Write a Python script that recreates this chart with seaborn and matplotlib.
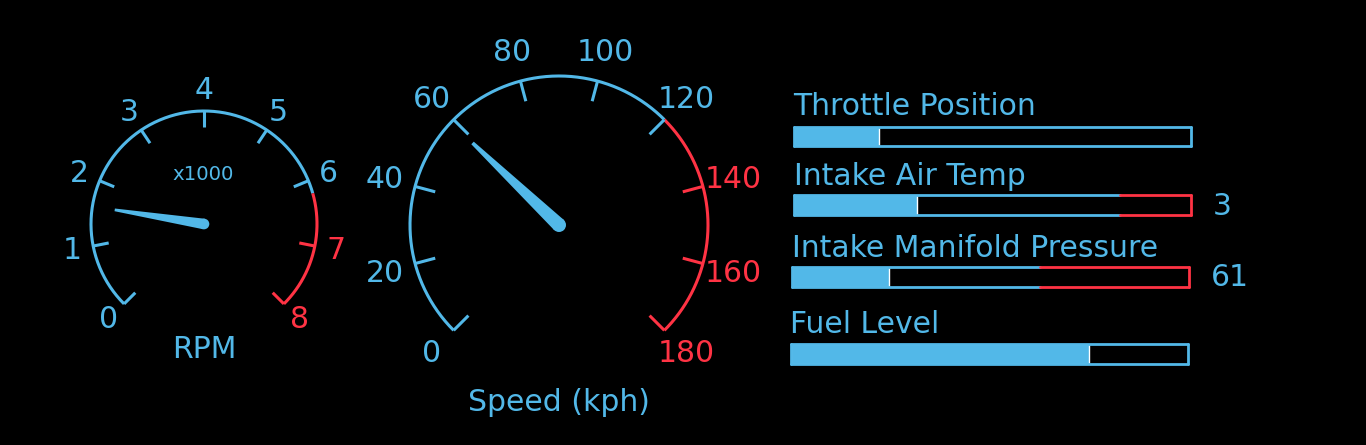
import numpy as np
import matplotlib
matplotlib.use("Agg")
import matplotlib.pyplot as plt
import seaborn as sns
from matplotlib.patches import Circle

# --------------------------------------------------
# Data
# --------------------------------------------------

rpm_ticks = [0, 1, 2, 3, 4, 5, 6, 7, 8]
rpm_value = 1.6
rpm_redline = 6.2

speed_ticks = [0, 20, 40, 60, 80, 100, 120, 140, 160, 180]
speed_value = 59
speed_redline = 120

bar_labels = [
    "Throttle Position",
    "Intake Air Temp",
    "Intake Manifold Pressure",
    "Fuel Level"
]
bar_values = [21.5, 31, 24.5, 75]
bar_warn = [None, 82, 62.5, None]
bar_readouts = ["", "3", "61", ""]

# --------------------------------------------------
# Style / layout
# --------------------------------------------------

BLUE = "#52b8e8"
RED = "#ff3344"
W, H = 1366, 445
FS = 21.5

sns.set_theme(
    style="dark",
    rc={
        "figure.facecolor": "black",
        "axes.facecolor": "black",
        "savefig.facecolor": "black",
        "text.color": BLUE
    }
)
plt.rcParams["font.family"] = ["DejaVu Sans"]

fig = plt.figure(figsize=(W / 100, H / 100), dpi=100)


def draw_gauge(cx, cy, r, ticks, value, redline, label_r,
               title, title_y, sub=None, sub_y=None, lift=0):
    half = 1.5 * r
    ax = fig.add_axes([
        (cx - half) / W,
        (H - cy - half) / H,
        2 * half / W,
        2 * half / H
    ])
    ax.set_xlim(-1.5, 1.5)
    ax.set_ylim(-1.5, 1.5)
    ax.axis("off")

    vmax = ticks[-1]
    dy = lift / r

    def ang(v):
        return np.deg2rad(225 - 270 * np.asarray(v, dtype=float) / vmax)

    # arc
    v = np.linspace(0, redline, 300)
    ax.plot(np.cos(ang(v)), np.sin(ang(v)), color=BLUE, lw=2.2,
            solid_capstyle="butt")
    v = np.linspace(redline, vmax, 200)
    ax.plot(np.cos(ang(v)), np.sin(ang(v)), color=RED, lw=2.2,
            solid_capstyle="butt")

    # ticks and labels
    for t in ticks:
        c = RED if t > redline else BLUE
        a = ang(t)
        ax.plot([0.86 * np.cos(a), np.cos(a)],
                [0.86 * np.sin(a), np.sin(a)],
                color=c, lw=2.2, solid_capstyle="butt")
        ax.text(label_r * np.cos(a), label_r * np.sin(a) + dy, str(t),
                color=c, fontsize=FS, ha="center", va="center_baseline")

    # needle
    a = ang(value)
    ux, uy = np.cos(a), np.sin(a)
    px, py = -uy, ux
    L, wb, wt = 0.8, 0.047, 0.012
    xs = [wb * px, L * ux + wt * px, L * ux - wt * px, -wb * px]
    ys = [wb * py, L * uy + wt * py, L * uy - wt * py, -wb * py]
    ax.fill(xs, ys, color=BLUE, lw=0)
    ax.add_patch(Circle((0, 0), wb, color=BLUE, lw=0))

    ax.text(0, title_y + dy, title, color=BLUE, fontsize=FS,
            ha="center", va="center_baseline")
    if sub:
        ax.text(-0.01, sub_y + dy, sub, color=BLUE, fontsize=14.2,
                ha="center", va="center_baseline")


draw_gauge(204, 224, 113, rpm_ticks, rpm_value, rpm_redline, 1.19,
           "RPM", -1.11, "x1000", 0.43, lift=2.5)
draw_gauge(559, 225, 149, speed_ticks, speed_value, speed_redline, 1.21,
           "Speed (kph)", -1.18, lift=1.5)

# --------------------------------------------------
# Bars
# --------------------------------------------------

bar_boxes = [
    (794, 127, 1191, 146),
    (794, 195, 1191, 215),
    (792, 267, 1189, 287),
    (791, 344, 1188, 364)
]
label_pos = [(793, 115), (794, 185), (792, 257), (790, 333)]

for i, label in enumerate(bar_labels):
    x0, y0, x1, y1 = bar_boxes[i]
    ax = fig.add_axes([
        x0 / W,
        1 - y1 / H,
        (x1 - x0) / W,
        (y1 - y0) / H
    ])

    sns.barplot(
        x=[bar_values[i]],
        y=[label],
        orient="h",
        color=BLUE,
        saturation=1,
        width=1,
        ax=ax
    )
    ax.set_xlim(0, 100)
    ax.set_ylim(0.5, -0.5)
    ax.axis("off")

    warn = bar_warn[i] if bar_warn[i] is not None else 100
    edge = RED if bar_warn[i] is not None else BLUE
    kw = dict(lw=2, clip_on=False, solid_capstyle="round")
    ax.plot([0, warn], [-0.5, -0.5], color=BLUE, **kw)
    ax.plot([0, warn], [0.5, 0.5], color=BLUE, **kw)
    ax.plot([0, 0], [-0.5, 0.5], color=BLUE, **kw)
    ax.plot([warn, 100], [-0.5, -0.5], color=edge, **kw)
    ax.plot([warn, 100], [0.5, 0.5], color=edge, **kw)
    ax.plot([100, 100], [-0.5, 0.5], color=edge, **kw)

    if bar_readouts[i]:
        ax.text(105.5, -0.1, bar_readouts[i], color=BLUE, fontsize=FS,
                ha="left", va="center_baseline")

    lx, ly = label_pos[i]
    fig.text(lx / W, 1 - ly / H, label, color=BLUE, fontsize=FS,
             ha="left", va="baseline")

fig.savefig("out.png", dpi=100, facecolor="black")
